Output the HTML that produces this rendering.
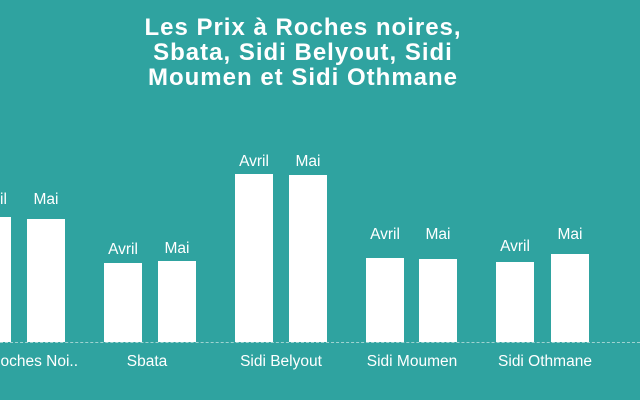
<!DOCTYPE html><html><head><style>
body{margin:0;width:640px;height:400px;background:#2fa3a0;overflow:hidden;position:relative;font-family:"Liberation Sans",sans-serif;color:#fff}
.t{position:absolute;left:0;width:606px;text-align:center;top:15px;font-weight:bold;font-size:24px;line-height:25px;letter-spacing:1px}
.b{position:absolute;background:#fff;width:38px;bottom:58px}
.l{position:absolute;width:60px;text-align:center;font-size:15.5px}
.c{position:absolute;width:140px;text-align:center;font-size:15.5px;top:353px}
.base{position:absolute;left:0;width:640px;top:342px;border-top:1.5px dashed #9fd3d1}
</style></head><body>
<div class="t">Les Prix à Roches noires,<br>Sbata, Sidi Belyout, Sidi<br>Moumen et Sidi Othmane</div>
<div class="base"></div>
<div class="b" style="left:-27px;top:217px"></div><div class="l" style="left:-38px;top:191px">Avril</div>
<div class="b" style="left:27px;top:219px"></div><div class="l" style="left:16px;top:191px">Mai</div>
<div class="b" style="left:104px;top:263px"></div><div class="l" style="left:93px;top:241px">Avril</div>
<div class="b" style="left:158px;top:261px"></div><div class="l" style="left:147px;top:240px">Mai</div>
<div class="b" style="left:235px;top:174px"></div><div class="l" style="left:224px;top:153px">Avril</div>
<div class="b" style="left:289px;top:175px"></div><div class="l" style="left:278px;top:153px">Mai</div>
<div class="b" style="left:366px;top:258px"></div><div class="l" style="left:355px;top:226px">Avril</div>
<div class="b" style="left:419px;top:259px"></div><div class="l" style="left:408px;top:226px">Mai</div>
<div class="b" style="left:496px;top:262px"></div><div class="l" style="left:485px;top:238px">Avril</div>
<div class="b" style="left:551px;top:254px"></div><div class="l" style="left:540px;top:226px">Mai</div>
<div class="c" style="left:-92px;width:170px;text-align:right">Roches Noi..</div>
<div class="c" style="left:77px">Sbata</div>
<div class="c" style="left:211px">Sidi Belyout</div>
<div class="c" style="left:342px">Sidi Moumen</div>
<div class="c" style="left:475px">Sidi Othmane</div>
</body></html>
